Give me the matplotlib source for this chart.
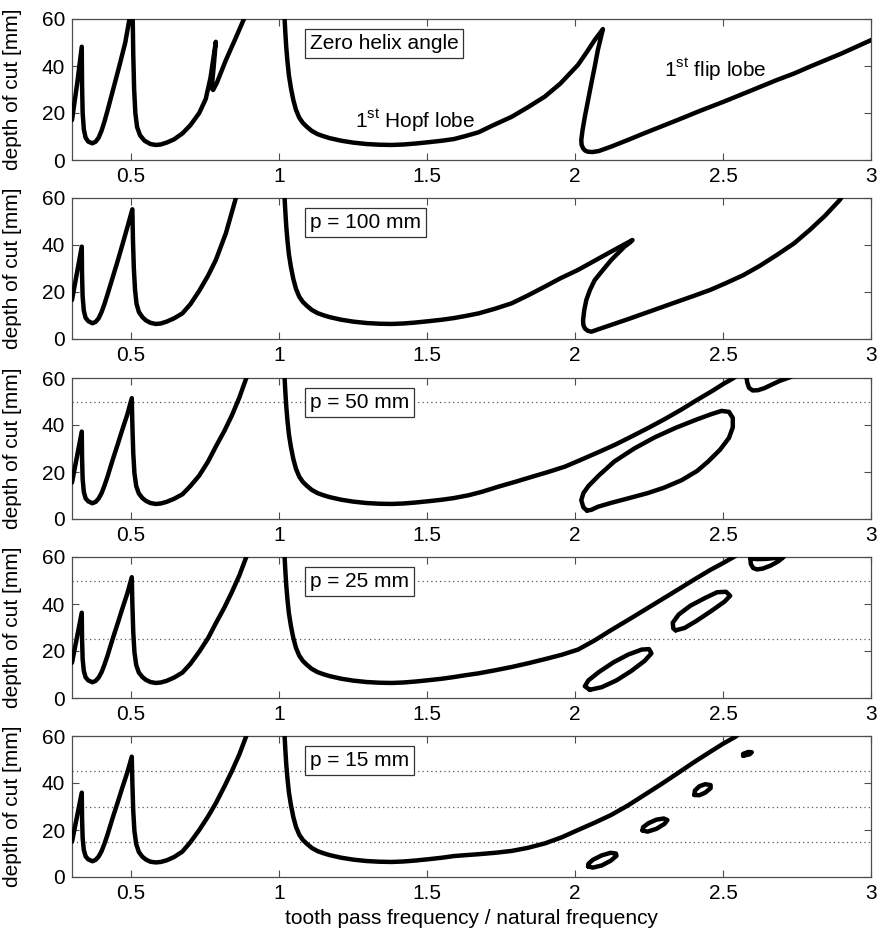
import matplotlib
matplotlib.use("Agg")
import matplotlib.pyplot as plt

plt.rcParams['font.family'] = ['Liberation Sans', 'DejaVu Sans']

# ---- data ----
panel_labels = ['Zero helix angle', 'p = 100 mm', 'p = 50 mm', 'p = 25 mm', 'p = 15 mm']
dotted_levels = [[], [], [50], [25, 50], [15, 30, 45]]

x_ticks = [0.5, 1, 1.5, 2, 2.5, 3]
x_tick_labels = ['0.5', '1', '1.5', '2', '2.5', '3']
y_ticks = [0, 20, 40, 60]

# low-speed lobes (left of ratio 1)
p1_left_x = [0.3, 0.318, 0.333, 0.334, 0.336, 0.34, 0.346, 0.355, 0.369, 0.38, 0.39, 0.40, 0.41,
             0.42, 0.44, 0.46, 0.48, 0.497,
             0.505, 0.507, 0.51, 0.514, 0.52, 0.53, 0.545, 0.565, 0.583, 0.60, 0.62, 0.645, 0.673,
             0.70, 0.73, 0.752, 0.768, 0.786, 0.779, 0.772, 0.777, 0.79, 0.82, 0.85, 0.888]
p1_left_y = [17, 33, 48.2, 32, 20, 13, 9.5, 7.8, 7.1, 7.8, 9.5, 12.5, 16.5,
             21, 30.5, 40, 50, 62,
             62, 45, 30, 20, 14, 10.5, 8.2, 6.8, 6.4, 6.6, 7.4, 8.8, 11.3,
             14.8, 20, 26, 35, 50.3, 40, 30.5, 29.8, 33, 42.5, 51, 62]

p2_left_x = [0.3, 0.333, 0.334, 0.336, 0.34, 0.346, 0.355, 0.369, 0.38, 0.39, 0.40, 0.41, 0.42,
             0.437, 0.455, 0.47, 0.487, 0.504,
             0.506, 0.509, 0.513, 0.518, 0.526, 0.538, 0.55, 0.565, 0.583, 0.60, 0.62, 0.645,
             0.673, 0.70, 0.73, 0.76, 0.786, 0.82, 0.856]
p2_left_y = [16.6, 39.3, 27, 18, 12, 9, 7.6, 6.7, 7.3, 8.8, 11.5, 15, 19,
             26, 33.5, 40, 47.5, 55.2,
             42, 30, 21, 15, 11.5, 9.3, 7.9, 6.9, 6.4, 6.6, 7.4, 8.8,
             10.9, 14.8, 20.5, 27, 33.6, 45, 61]

low_x = [0.3, 0.333, 0.334, 0.336, 0.34, 0.346, 0.355, 0.369, 0.38, 0.39, 0.40, 0.41, 0.42,
         0.437, 0.455, 0.47, 0.487, 0.502,
         0.504, 0.507, 0.511, 0.517, 0.526, 0.538, 0.55, 0.565, 0.583, 0.60, 0.62, 0.645,
         0.673, 0.70, 0.73, 0.76, 0.786, 0.815, 0.84, 0.865, 0.892]
p3_left_y = [15.5, 37.2, 26, 17, 11.5, 8.8, 7.5, 6.7, 7.3, 8.7, 11, 14.3, 18,
             25, 32, 38, 44.5, 51.4,
             40, 28, 19.5, 14, 10.8, 8.9, 7.7, 6.8, 6.4, 6.6, 7.3, 8.6,
             10.5, 14, 18.5, 24.5, 30.8, 37.5, 44, 51.5, 61]
p4_left_y = [15, 36.3, 25, 16.5, 11.5, 8.8, 7.5, 6.7, 7.3, 8.7, 11, 14.3, 18,
             25, 32, 38, 44.5, 51.4,
             40, 28, 19.5, 14, 10.8, 8.9, 7.7, 6.8, 6.4, 6.6, 7.3, 8.7,
             10.8, 14.5, 19.7, 25.5, 31.8, 38.5, 45, 52, 61]
p5_left_y = [15, 35.9, 25, 16.5, 11.5, 8.8, 7.5, 6.7, 7.3, 8.7, 11, 14.3, 18,
             25, 32, 38, 44.5, 51.2,
             40, 28, 19.5, 14, 10.6, 8.6, 7.4, 6.5, 6.2, 6.4, 7.1, 8.5,
             10.8, 14.8, 20, 25.8, 31.4, 38.5, 45, 52, 61]

# 1st Hopf lobe, descending part (same in all panels)
hopf_x = [1.018, 1.021, 1.024, 1.028, 1.033, 1.04, 1.048, 1.057, 1.068, 1.08, 1.093, 1.11, 1.13,
          1.15, 1.171, 1.21, 1.25, 1.295, 1.339, 1.38, 1.42, 1.46, 1.507, 1.55, 1.59]
hopf_y = [61, 54, 48, 42, 36, 30.5, 25.5, 21.3, 18, 15.8, 14.2, 12.4, 11,
          10.1, 9.3, 8.2, 7.4, 6.8, 6.5, 6.4, 6.6, 7.0, 7.6, 8.2, 8.9]

# rest of the Hopf lobe + flip lobe, per panel
p1_right_x = [1.63, 1.674, 1.72, 1.786, 1.84, 1.898, 1.95, 2.01, 2.04, 2.066, 2.094,
              2.086, 2.077, 2.066, 2.055, 2.044, 2.033, 2.025, 2.021, 2.022, 2.027, 2.034,
              2.044, 2.06, 2.08, 2.122, 2.18, 2.234, 2.29, 2.346, 2.42, 2.502, 2.59, 2.681,
              2.74, 2.793, 2.9, 3.0, 3.02]
p1_right_y = [10.2, 11.8, 14.6, 18.4, 22.4, 27, 32.5, 40.5, 46, 51, 55.7,
              51.5, 46.8, 39.5, 32.6, 25.5, 18.4, 12.5, 8.5, 6.5, 5, 4,
              3.5, 3.4, 3.8, 5.7, 8.6, 11.4, 14.2, 17, 20.8, 24.8, 29.3, 34,
              36.8, 39.7, 45.3, 51, 52]

p2_right_x = [1.63, 1.674, 1.73, 1.786, 1.84, 1.898, 1.95, 2.01, 2.066, 2.122, 2.16, 2.194,
              2.185, 2.167, 2.145, 2.122, 2.095, 2.066, 2.05, 2.038, 2.031, 2.027, 2.028, 2.033,
              2.043, 2.055, 2.08, 2.122, 2.178, 2.234, 2.29, 2.346, 2.4, 2.457, 2.51, 2.569,
              2.625, 2.681, 2.74, 2.793, 2.845, 2.894, 2.91]
p2_right_y = [9.8, 10.9, 12.9, 15.2, 18.5, 22.3, 25.8, 29.4, 33.3, 37.2, 39.8, 42.1,
              41, 39.3, 36.5, 33.6, 29.5, 25, 20.8, 16.6, 12.3, 8, 6, 4.5,
              3.5, 3.1, 4.2, 6, 8.4, 10.9, 13.4, 15.9, 18.3, 20.9, 23.8, 27.2,
              31.2, 35.7, 40.7, 46.4, 52.5, 59.1, 62]

p3_right_x = [1.64, 1.686, 1.742, 1.80, 1.85, 1.909, 1.966, 2.02, 2.08, 2.135, 2.189, 2.245,
              2.30, 2.357, 2.41, 2.469, 2.50, 2.536, 2.55]
p3_right_y = [10.1, 11.6, 13.8, 15.9, 17.8, 20, 22.3, 25.2, 28.5, 31.6, 35, 38.6,
              42.3, 46.4, 50.5, 54.9, 57.4, 60, 61.5]

p4_right_x = [1.63, 1.674, 1.73, 1.786, 1.842, 1.9, 1.955, 2.01, 2.066, 2.122, 2.178, 2.234,
              2.29, 2.346, 2.4, 2.457, 2.50, 2.536, 2.55]
p4_right_y = [9.7, 10.5, 11.8, 13.2, 14.8, 16.6, 18.4, 20.6, 24.5, 28.9, 33.1, 37.4,
              41.7, 46, 50.2, 54.5, 57.4, 60, 61.2]

p5_right_x = [1.63, 1.674, 1.73, 1.786, 1.84, 1.898, 1.955, 2.01, 2.066, 2.122, 2.178, 2.234,
              2.29, 2.346, 2.4, 2.457, 2.50, 2.541, 2.555]
p5_right_y = [9.3, 9.7, 10.3, 11.1, 12.4, 14.3, 16.9, 20, 23.1, 26.4, 30.4, 34.9,
              39.4, 44.1, 48.7, 53.3, 56.7, 59.6, 61]

# flip islands (closed loops) and clipped pieces near the top
p3_isl_x = [2.04, 2.028, 2.021, 2.028, 2.045, 2.08, 2.133, 2.2, 2.27, 2.34, 2.41, 2.46, 2.495,
            2.52, 2.533, 2.533, 2.52, 2.49, 2.45, 2.413, 2.36, 2.3, 2.245, 2.18, 2.12, 2.077,
            2.055, 2.04]
p3_isl_y = [3.6, 5, 8, 11, 14, 18.5, 24.5, 30, 34.8, 38.8, 42.3, 44.6, 46,
            45.6, 43, 39, 34.5, 29.5, 24.5, 20.5, 16.5, 13.3, 11, 8.8, 6.8, 5.2,
            3.9, 3.6]
p3_top_x = [2.578, 2.582, 2.588, 2.6, 2.618, 2.64, 2.665, 2.692, 2.73]
p3_top_y = [61, 58, 55.8, 54.7, 54.8, 55.7, 57.2, 58.8, 60.5]

p4_isl1_x = [2.05, 2.09, 2.14, 2.19, 2.235, 2.258, 2.25, 2.225, 2.18, 2.13, 2.08, 2.045,
             2.033, 2.05]
p4_isl1_y = [3.5, 4.6, 7.5, 11.5, 15.8, 19, 20.8, 20.6, 18.5, 15.2, 11, 7.5,
             5, 3.5]
p4_isl2_x = [2.34, 2.37, 2.41, 2.46, 2.505, 2.524, 2.51, 2.48, 2.44, 2.39, 2.35, 2.33, 2.332,
             2.34]
p4_isl2_y = [28.8, 29.8, 32.8, 37, 41, 43.5, 45.2, 45, 42.6, 39.3, 35.5, 32, 29.6,
             28.8]
p4_isl3_x = [2.592, 2.594, 2.602, 2.615, 2.635, 2.66, 2.685, 2.705, 2.68, 2.645, 2.615, 2.598,
             2.592]
p4_isl3_y = [59.6, 57, 55.3, 54.7, 55.1, 56.3, 58, 60, 59.6, 59.2, 59.1, 59.3,
             59.6]

p5_isl1_x = [2.044, 2.06, 2.09, 2.12, 2.14, 2.138, 2.12, 2.09, 2.06, 2.045, 2.044]
p5_isl1_y = [4.5, 4.0, 4.9, 6.9, 9.0, 10.0, 10.3, 9.2, 7.3, 5.6, 4.5]
p5_isl2_x = [2.228, 2.245, 2.275, 2.302, 2.312, 2.3, 2.275, 2.248, 2.23, 2.228]
p5_isl2_y = [19.8, 19.3, 20.5, 22.6, 24.2, 24.9, 24.4, 22.9, 21.2, 19.8]
p5_isl3_x = [2.403, 2.42, 2.44, 2.458, 2.458, 2.44, 2.42, 2.405, 2.403]
p5_isl3_y = [34.9, 34.8, 35.9, 37.8, 39.1, 39.5, 38.6, 36.8, 34.9]
p5_isl4_x = [2.568, 2.59, 2.597, 2.585, 2.568, 2.568]
p5_isl4_y = [51.6, 52.2, 53.1, 53.2, 52.4, 51.6]

panels = [
    [(p1_left_x, p1_left_y), (hopf_x + p1_right_x, hopf_y + p1_right_y)],
    [(p2_left_x, p2_left_y), (hopf_x + p2_right_x, hopf_y + p2_right_y)],
    [(low_x, p3_left_y), (hopf_x + p3_right_x, hopf_y + p3_right_y),
     (p3_isl_x, p3_isl_y), (p3_top_x, p3_top_y)],
    [(low_x, p4_left_y), (hopf_x + p4_right_x, hopf_y + p4_right_y),
     (p4_isl1_x, p4_isl1_y), (p4_isl2_x, p4_isl2_y), (p4_isl3_x, p4_isl3_y)],
    [(low_x, p5_left_y), (hopf_x + p5_right_x, hopf_y + p5_right_y),
     (p5_isl1_x, p5_isl1_y), (p5_isl2_x, p5_isl2_y), (p5_isl3_x, p5_isl3_y),
     (p5_isl4_x, p5_isl4_y)],
]

# ---- figure ----
fig = plt.figure(figsize=(8.82, 9.4), dpi=100)
bottoms_px = [160, 339, 519, 698, 877]
left, width, height = 72 / 882, 799 / 882, 141 / 940

frame_col = '0.3'
for i, segs in enumerate(panels):
    ax = fig.add_axes([left, 1 - bottoms_px[i] / 940, width, height])
    for lev in dotted_levels[i]:
        ax.axhline(lev, color='0.35', lw=0.9, ls=(0, (1, 2.5)), zorder=1)
    for sx, sy in segs:
        ax.plot(sx, sy, color='black', lw=3.2, solid_joinstyle='round',
                solid_capstyle='round', zorder=3)
    ax.set_xlim(0.3, 3)
    ax.set_ylim(0, 60)
    ax.set_xticks(x_ticks)
    ax.set_xticklabels(x_tick_labels)
    ax.set_yticks(y_ticks)
    ax.tick_params(direction='in', top=True, right=True, length=5, width=0.8,
                   color=frame_col, labelsize=15, pad=5)
    for sp in ax.spines.values():
        sp.set_color(frame_col)
        sp.set_linewidth(0.9)
    ax.set_ylabel('depth of cut [mm]', fontsize=15)
    ax.yaxis.set_label_coords(-0.062, 0.5)
    ax.text(1.104, 0.826, panel_labels[i], transform=ax.get_xaxis_transform(),
            ha='left', va='center', fontsize=15, zorder=5,
            bbox=dict(boxstyle='square,pad=0.22', facecolor='white',
                      edgecolor='0.2', linewidth=0.9))
    if i == 0:
        ax.text(1.258, 13.6, r'1$^{\mathregular{st}}$ Hopf lobe', fontsize=15,
                ha='left', va='baseline', zorder=5)
        ax.text(2.30, 35.3, r'1$^{\mathregular{st}}$ flip lobe', fontsize=15,
                ha='left', va='baseline', zorder=5)
    if i == 4:
        ax.set_xlabel('tooth pass frequency / natural frequency', fontsize=15, labelpad=4)

fig.savefig('out.png', dpi=100)
